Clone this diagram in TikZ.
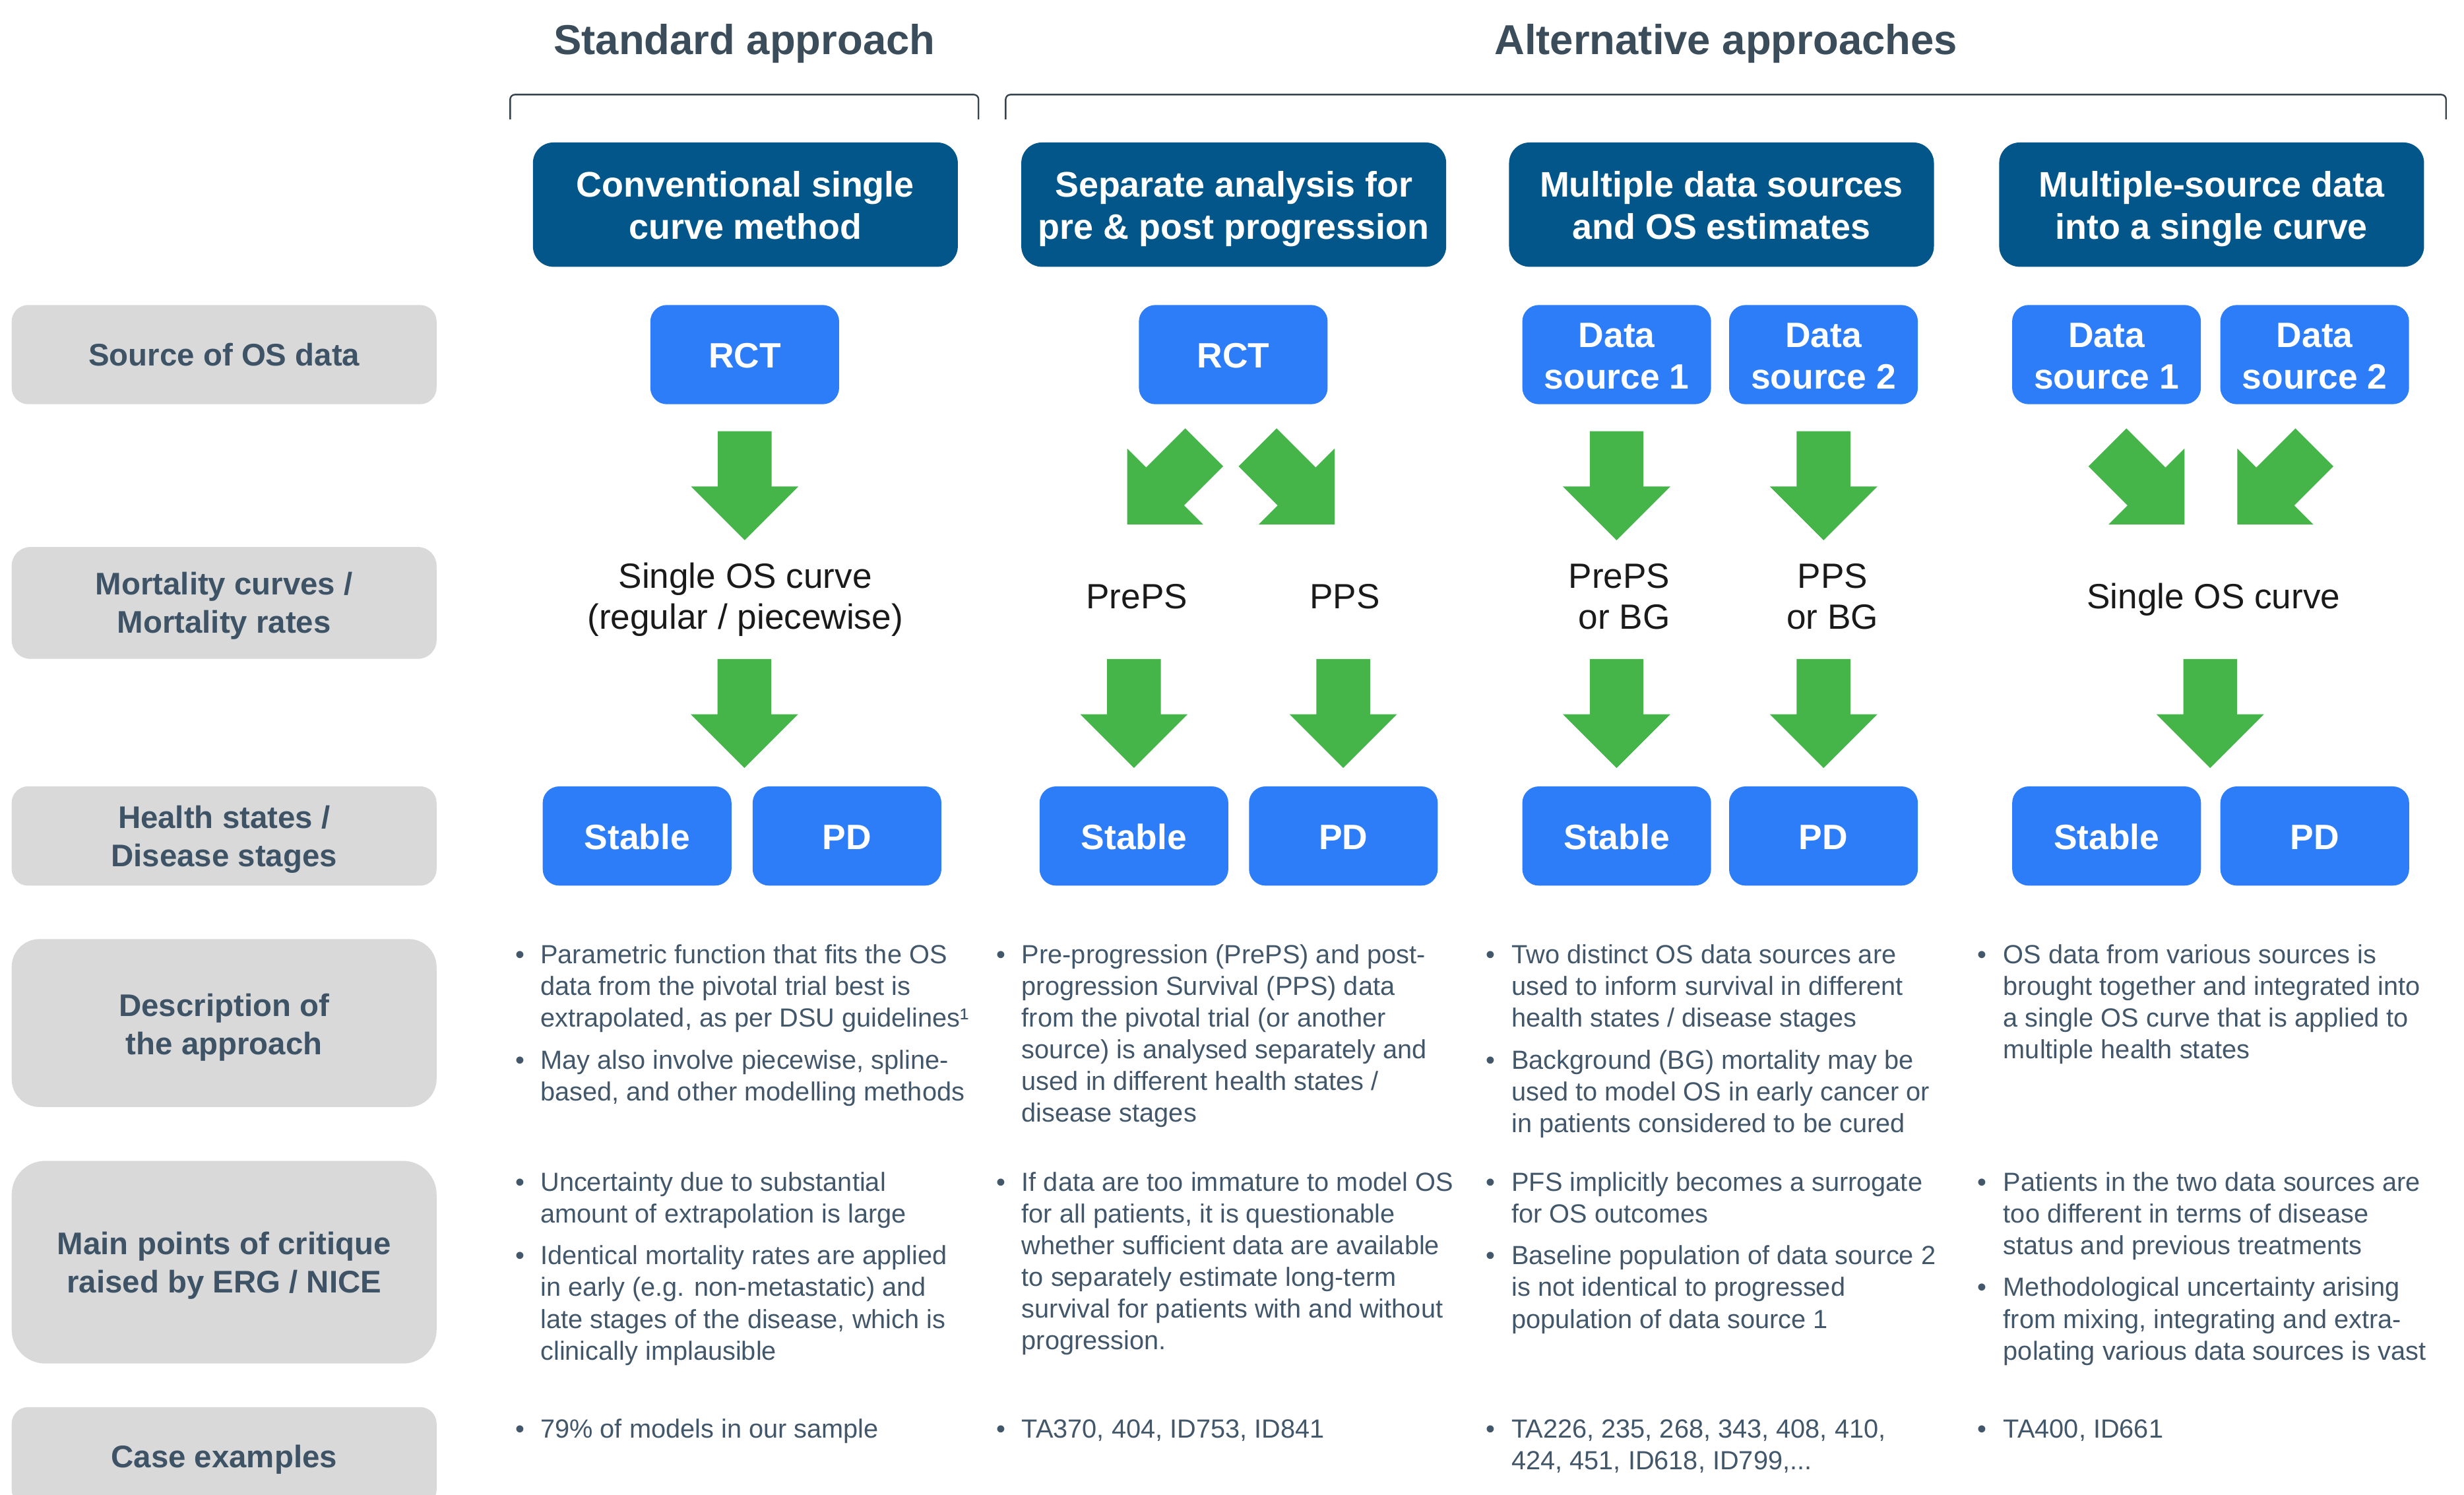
\documentclass[tikz,border=0pt]{standalone}
\usepackage{fontspec}
\setmainfont{Liberation Sans}
\definecolor{hdrblue}{HTML}{02568A}
\definecolor{boxblue}{HTML}{2D7DF8}
\definecolor{arrgreen}{HTML}{45B54A}
\definecolor{lblgray}{HTML}{D9D9D9}
\definecolor{lblslate}{HTML}{3E5466}
\definecolor{headslate}{HTML}{3B4D5A}
\definecolor{bodyslate}{HTML}{42576A}
\definecolor{bracketc}{HTML}{37434C}
\definecolor{nearblack}{HTML}{1A1A1A}
\tikzset{
  hdrbox/.style={fill=hdrblue, rounded corners=13pt, minimum width=269pt, minimum height=78.7pt, inner sep=0pt, outer sep=0pt},
  srcbox/.style={fill=boxblue, rounded corners=10.4pt, minimum width=119.5pt, minimum height=62.8pt, inner sep=0pt, outer sep=0pt},
  lblbox/.style={fill=lblgray, minimum width=269pt, inner sep=0pt, outer sep=0pt},
  headtxt/.style={font=\fontsize{26.5}{30}\selectfont\bfseries, text=headslate, inner sep=0pt, outer sep=0pt, anchor=base},
  hdrtxt/.style={font=\fontsize{22.5}{26.8}\selectfont\bfseries, text=white, align=center, inner sep=0pt, outer sep=0pt, anchor=north},
  boxtxt/.style={font=\fontsize{22.3}{26.7}\selectfont\bfseries, text=white, align=center, inner sep=0pt, outer sep=0pt},
  lbltxt/.style={font=\fontsize{19.8}{24.3}\selectfont\bfseries, text=lblslate, align=center, inner sep=0pt, outer sep=0pt},
  morttxt/.style={font=\fontsize{22.2}{26.2}\selectfont, text=nearblack, inner sep=0pt, outer sep=0pt},
  bodytxt/.style={font=\fontsize{16.6}{20.1}\selectfont, text=bodyslate, align=left, inner sep=0pt, outer sep=0pt, anchor=north west},
  dottxt/.style={font=\fontsize{16.6}{20.1}\selectfont, text=bodyslate, inner sep=0pt, outer sep=0pt, anchor=base},
  bracketline/.style={draw=bracketc, line width=1pt, rounded corners=3pt},
  garrow/.pic={\fill[arrgreen] (0pt,0pt) -- (-34pt,34pt) -- (-34pt,17pt) -- (-69pt,17pt) -- (-69pt,-17pt) -- (-34pt,-17pt) -- (-34pt,-34pt) -- cycle;}
}
% bullet paragraph: name, bullet x, text x, first baseline, lines
\newcommand{\bpar}[5]{%
  \node[dottxt] (#1-dot) at (#2,#4) {•};
  \node[bodytxt] (#1) at (#3,#4-15) {\rule{0pt}{15pt}#5};
}
\begin{document}
\begin{tikzpicture}[x=1pt,y=-1pt]
\useasboundingbox (0,0) rectangle (1560,946.4);
\clip (0,0) rectangle (1560,946.4);

% ---- top headings and brackets
\node[headtxt] (std) at (471.3,34.5) {Standard approach};
\node[headtxt] (alt) at (1092.7,34.5) {Alternative approaches};
\draw[bracketline] (323,75.6) -- (323,59.9) -- (619.5,59.9) -- (619.5,75.6);
\draw[bracketline] (636.7,75.6) -- (636.7,59.9) -- (1548.6,59.9) -- (1548.6,75.6);

% ---- approach header boxes
\node[hdrbox] (h1) at (471.9,129.55) {};
\node[hdrbox] (h2) at (781.1,129.55) {};
\node[hdrbox] (h3) at (1089.9,129.55) {};
\node[hdrbox] (h4) at (1400.2,129.55) {};
\node[hdrtxt] (h1t) at (471.9,124.5-19) {\rule{0pt}{19pt}Conventional single\\curve method};
\node[hdrtxt] (h2t) at (781.1,124.5-19) {\rule{0pt}{19pt}Separate analysis for\\pre \& post progression};
\node[hdrtxt] (h3t) at (1089.9,124.5-19) {\rule{0pt}{19pt}Multiple data sources\\and OS estimates};
\node[hdrtxt] (h4t) at (1400.2,124.5-19) {\rule{0pt}{19pt}Multiple-source data\\into a single curve};

% ---- row labels (grey)
\node[lblbox, minimum height=62.8pt, rounded corners=10.4pt] (lsrc) at (141.9,224.5) {};
\node[lblbox, minimum height=70.8pt, rounded corners=11.8pt] (lmort) at (141.9,381.7) {};
\node[lblbox, minimum height=62.9pt, rounded corners=10.4pt] (lhs) at (141.9,529.25) {};
\node[lblbox, minimum height=106.3pt, rounded corners=17.6pt] (ldesc) at (141.9,647.65) {};
\node[lblbox, minimum height=128.3pt, rounded corners=21.3pt] (lcrit) at (141.9,799.05) {};
\node[lblbox, minimum height=62.8pt, rounded corners=10.4pt] (lcase) at (141.9,922.2) {};
\node[lbltxt, anchor=base] (lsrct) at (141.9,231.6) {Source of OS data};
\node[lbltxt, anchor=north] (lmortt) at (141.9,376.65-17) {\rule{0pt}{17pt}Mortality curves /\\Mortality rates};
\node[lbltxt, anchor=north] (lhst) at (141.9,524.2-17) {\rule{0pt}{17pt}Health states /\\Disease stages};
\node[lbltxt, anchor=north] (ldesct) at (141.9,643.3-17) {\rule{0pt}{17pt}Description of\\the approach};
\node[lbltxt, anchor=north] (lcritt) at (141.9,794.2-17) {\rule{0pt}{17pt}Main points of critique\\raised by ERG / NICE};
\node[lbltxt, anchor=base] (lcaset) at (141.9,929.3) {Case examples};

% ---- data source boxes
\node[srcbox] (s1) at (471.5,224.5) {};
\node[srcbox] (s2) at (780.8,224.5) {};
\node[srcbox] (s3a) at (1023.55,224.5) {};
\node[srcbox] (s3b) at (1154.45,224.5) {};
\node[srcbox] (s4a) at (1333.65,224.5) {};
\node[srcbox] (s4b) at (1465.45,224.5) {};
\node[boxtxt, anchor=base] (s1t) at (471.5,232.8) {RCT};
\node[boxtxt, anchor=base] (s2t) at (780.8,232.8) {RCT};
\node[boxtxt, anchor=north] (s3at) at (1023.55,219.7-19) {\rule{0pt}{19pt}Data\\source 1};
\node[boxtxt, anchor=north] (s3bt) at (1154.45,219.7-19) {\rule{0pt}{19pt}Data\\source 2};
\node[boxtxt, anchor=north] (s4at) at (1333.65,219.7-19) {\rule{0pt}{19pt}Data\\source 1};
\node[boxtxt, anchor=north] (s4bt) at (1465.45,219.7-19) {\rule{0pt}{19pt}Data\\source 2};

% ---- arrows row A
\pic[rotate=-90] (a1) at (471.5,342) {garrow};
\pic[rotate=-135] (a2l) at (713.6,332) {garrow};
\pic[rotate=-45] (a2r) at (845,332) {garrow};
\pic[rotate=-90] (a3l) at (1023.5,342) {garrow};
\pic[rotate=-90] (a3r) at (1154.5,342) {garrow};
\pic[rotate=-45] (a4l) at (1383,332) {garrow};
\pic[rotate=-135] (a4r) at (1416.5,332) {garrow};

% ---- mortality curves
\node[morttxt, align=center, anchor=north] (m1) at (471.8,372.2-19) {\rule{0pt}{19pt}Single OS curve\\(regular / piecewise)};
\node[morttxt, anchor=base] (m2l) at (719.7,385.4) {PrePS};
\node[morttxt, anchor=base] (m2r) at (851.5,385.4) {PPS};
\node[morttxt, align=right, anchor=north east] (m3l) at (1057.3,372.2-19) {\rule{0pt}{19pt}PrePS\\or BG};
\node[morttxt, align=center, anchor=north] (m3r) at (1160.2,372.2-19) {\rule{0pt}{19pt}PPS\\or BG};
\node[morttxt, anchor=base] (m4) at (1401.4,385.4) {Single OS curve};

% ---- arrows row B
\pic[rotate=-90] (b1) at (471.3,486.2) {garrow};
\pic[rotate=-90] (b2l) at (717.9,486.2) {garrow};
\pic[rotate=-90] (b2r) at (850.4,486.2) {garrow};
\pic[rotate=-90] (b3l) at (1023.5,486.2) {garrow};
\pic[rotate=-90] (b3r) at (1154.5,486.2) {garrow};
\pic[rotate=-90] (b4) at (1399.3,486.2) {garrow};

% ---- health states
\node[srcbox] (st1) at (403.35,529.25) {};
\node[srcbox] (pd1) at (536.25,529.25) {};
\node[srcbox] (st2) at (717.9,529.25) {};
\node[srcbox] (pd2) at (850.5,529.25) {};
\node[srcbox] (st3) at (1023.55,529.25) {};
\node[srcbox] (pd3) at (1154.45,529.25) {};
\node[srcbox] (st4) at (1333.7,529.25) {};
\node[srcbox] (pd4) at (1465.5,529.25) {};
\node[boxtxt, anchor=base] (st1t) at (403.35,537.7) {Stable};
\node[boxtxt, anchor=base] (pd1t) at (536.25,537.7) {PD};
\node[boxtxt, anchor=base] (st2t) at (717.9,537.7) {Stable};
\node[boxtxt, anchor=base] (pd2t) at (850.5,537.7) {PD};
\node[boxtxt, anchor=base] (st3t) at (1023.55,537.7) {Stable};
\node[boxtxt, anchor=base] (pd3t) at (1154.45,537.7) {PD};
\node[boxtxt, anchor=base] (st4t) at (1333.7,537.7) {Stable};
\node[boxtxt, anchor=base] (pd4t) at (1465.5,537.7) {PD};

% ---- description of the approach
\bpar{d1a}{329.3}{342.2}{609.9}{Parametric function that fits the OS\\data from the pivotal trial best is\\extrapolated, as per DSU guidelines¹}
\bpar{d1b}{329.3}{342.2}{676.7}{May also involve piecewise, spline-\\based, and other modelling methods}
\bpar{d2a}{633.7}{646.9}{609.9}{Pre-progression (PrePS) and post-\\progression Survival (PPS) data\\from the pivotal trial (or another\\source) is analysed separately and\\used in different health states /\\disease stages}
\bpar{d3a}{943.5}{957}{609.9}{Two distinct OS data sources are\\used to inform survival in different\\health states / disease stages}
\bpar{d3b}{943.5}{957}{676.7}{Background (BG) mortality may be\\used to model OS in early cancer or\\in patients considered to be cured}
\bpar{d4a}{1254.8}{1268.4}{609.9}{OS data from various sources is\\brought together and integrated into\\a single OS curve that is applied to\\multiple health states}

% ---- main points of critique
\bpar{c1a}{329.3}{342.2}{753.9}{Uncertainty due to substantial\\amount of extrapolation is large}
\bpar{c1b}{329.3}{342.2}{800.6}{Identical mortality rates are applied\\in early (e.g. non-metastatic) and\\late stages of the disease, which is\\clinically implausible}
\bpar{c2a}{633.7}{646.9}{753.9}{If data are too immature to model OS\\for all patients, it is questionable\\whether sufficient data are available\\to separately estimate long-term\\survival for patients with and without\\progression.}
\bpar{c3a}{943.5}{957}{753.9}{PFS implicitly becomes a surrogate\\for OS outcomes}
\bpar{c3b}{943.5}{957}{800.6}{Baseline population of data source 2\\is not identical to progressed\\population of data source 1}
\bpar{c4a}{1254.8}{1268.4}{753.9}{Patients in the two data sources are\\too different in terms of disease\\status and previous treatments}
\bpar{c4b}{1254.8}{1268.4}{820.7}{Methodological uncertainty arising\\from mixing, integrating and extra-\\polating various data sources is vast}

% ---- case examples
\bpar{e1}{329.3}{342.2}{910.4}{79\% of models in our sample}
\bpar{e2}{633.7}{646.9}{910.4}{TA370, 404, ID753, ID841}
\bpar{e3}{943.5}{957}{910.4}{TA226, 235, 268, 343, 408, 410,\\424, 451, ID618, ID799,...}
\bpar{e4}{1254.8}{1268.4}{910.4}{TA400, ID661}
\end{tikzpicture}
\end{document}
